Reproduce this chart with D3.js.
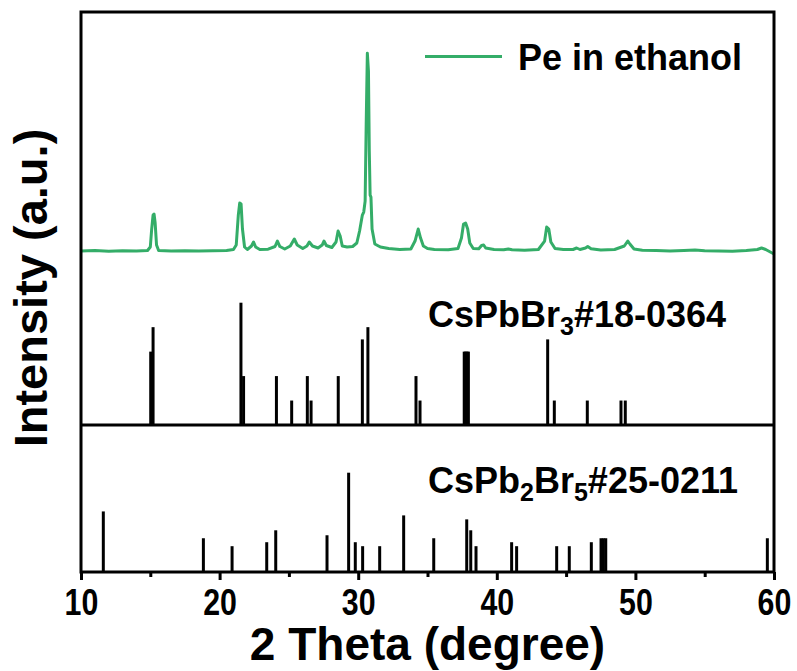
<!DOCTYPE html>
<html><head><meta charset="utf-8">
<script src="https://cdn.jsdelivr.net/npm/d3@7/dist/d3.min.js"></script>
<style>
html,body{margin:0;padding:0;background:#fff;}
text{font-family:"Liberation Sans",Arial,sans-serif;font-weight:bold;fill:#000;}
</style></head>
<body><svg id="c" width="797" height="671"></svg>
<script>
// ---- data ----
const xrdTheta = [10.0,11,12,13,14,14.8,15.0,15.1,15.2,15.27,15.35,15.45,15.6,16.5,17.5,18.5,19.5,20.5,21.0,21.2,21.35,21.45,21.55,21.65,21.8,22.0,22.3,22.45,22.6,22.9,23.5,24.0,24.17,24.35,24.7,25.1,25.39,25.6,26.0,26.3,26.47,26.7,27.1,27.4,27.53,27.7,28.1,28.4,28.55,28.7,28.85,29.2,29.6,29.9,30.1,30.3,30.4,30.5,30.58,30.66,30.74,30.8,30.86,30.92,31.0,31.2,31.6,32.2,33,33.8,34.1,34.33,34.5,34.7,35.0,35.5,36.5,37.2,37.45,37.6,37.75,37.9,38.05,38.3,38.7,38.9,39.05,39.2,39.8,40.5,40.83,41.1,42,43.0,43.45,43.6,43.75,43.9,44.2,44.8,45.5,45.76,46.0,46.4,46.56,46.8,47.5,48.5,49.2,49.45,49.6,49.9,50.5,51.5,52.5,53.5,54.3,55,56,57,58,58.8,59.1,59.4,60];
const xrdCounts = [200,205,198,203,200,205,240,420,560,570,480,260,205,200,202,200,203,205,215,260,560,680,670,420,240,215,250,290,240,215,218,245,300,245,220,250,320,260,225,250,290,250,230,260,300,255,235,290,400,350,250,240,245,280,400,560,590,700,1500,2180,2000,1200,760,740,420,270,240,225,215,220,300,420,330,250,225,215,212,225,330,470,480,420,280,225,222,255,260,230,215,212,220,212,208,215,300,440,420,290,225,215,215,230,215,230,245,222,210,215,250,300,270,220,208,205,200,205,210,203,200,198,205,215,230,215,170];

const cspbbr3Theta = [15.03,15.2,21.54,21.73,24.1,25.2,26.33,26.6,28.56,30.3,30.7,34.17,34.46,37.65,37.75,37.85,37.95,43.67,44.15,46.53,48.96,49.27];
const cspbbr3Int   = [60,80,100,40,40,20,40,20,40,70,80,40,20,60,60,60,60,70,20,20,20,20];

const cspb2br5Theta = [11.61,18.83,20.9,23.4,24.05,27.75,29.31,29.79,30.32,31.55,33.28,35.45,37.83,38.12,38.5,41.07,41.43,44.32,45.23,46.82,47.52,47.69,47.86,59.52];
const cspb2br5Int   = [61,34,26,30,42,37,100,30,26,26,57,34,53,42,26,30,26,26,26,30,34,34,34,34];

const majorTicks = [10,20,30,40,50,60];
const minorTicks = [15,25,35,45,55];
const seriesName = "Pe in ethanol";
const xTitle = "2 Theta (degree)";
const yTitle = "Intensity (a.u.)";

// ---- layout ----
const L = 81, R = 774, T = 12, B = 572, SEP = 425;
const green = "#34ad68";
const svg = d3.select("#c");

const x = d3.scaleLinear().domain([10,60]).range([L,R]);
const yXrd = d3.scaleLinear().domain([200,2180]).range([251,53.3]);
const yMid = d3.scaleLinear().domain([0,100]).range([SEP,302.7]);
const yBot = d3.scaleLinear().domain([0,100]).range([B,472.7]);

// curve
const pts = xrdTheta.map((t,i)=>[t,xrdCounts[i]]);
svg.append("path").datum(pts)
  .attr("d", d3.line().x(d=>x(d[0])).y(d=>yXrd(d[1])))
  .attr("fill","none").attr("stroke",green).attr("stroke-width",3).attr("stroke-linejoin","round");

// sticks
svg.append("g").selectAll("line").data(cspbbr3Theta).join("line")
  .attr("x1",d=>x(d)).attr("x2",d=>x(d))
  .attr("y1",SEP).attr("y2",(d,i)=>yMid(cspbbr3Int[i]))
  .attr("stroke","#000").attr("stroke-width",3);
svg.append("g").selectAll("line").data(cspb2br5Theta).join("line")
  .attr("x1",d=>x(d)).attr("x2",d=>x(d))
  .attr("y1",B).attr("y2",(d,i)=>yBot(cspb2br5Int[i]))
  .attr("stroke","#000").attr("stroke-width",3);

// axes
const gMaj = svg.append("g").attr("transform",`translate(0,${B})`)
  .call(d3.axisBottom(x).tickValues(majorTicks).tickSize(8).tickFormat(d3.format("d")));
gMaj.select(".domain").remove();
gMaj.selectAll("line").attr("stroke","#000").attr("stroke-width",3);
gMaj.selectAll("text").attr("y",0).attr("dy",0).attr("x",0)
  .attr("transform","translate(0,43) scale(0.82,1.02)")
  .style("font-size","37px").style("font-family","'Liberation Sans',Arial,sans-serif").style("font-weight","bold").attr("fill","#000");
const gMin = svg.append("g").attr("transform",`translate(0,${B})`)
  .call(d3.axisBottom(x).tickValues(minorTicks).tickSize(5).tickFormat(""));
gMin.select(".domain").remove();
gMin.selectAll("line").attr("stroke","#000").attr("stroke-width",3);

// frame
svg.append("rect").attr("x",L).attr("y",T).attr("width",R-L).attr("height",B-T)
  .attr("fill","none").attr("stroke","#000").attr("stroke-width",3);
svg.append("line").attr("x1",L).attr("x2",R).attr("y1",SEP).attr("y2",SEP)
  .attr("stroke","#000").attr("stroke-width",3);

// legend
svg.append("line").attr("x1",425).attr("x2",502).attr("y1",56.5).attr("y2",56.5)
  .attr("stroke",green).attr("stroke-width",3);
svg.append("text").attr("x",518).attr("y",70).style("font-size","36px").text(seriesName);

// labels
const t1 = svg.append("text").attr("x",428).attr("y",327).style("font-size","36px");
t1.append("tspan").text("CsPbBr");
t1.append("tspan").attr("dy",8).style("font-size","25px").text("3");
t1.append("tspan").attr("dy",-8).text("#18-0364");
const t2 = svg.append("text").attr("x",428).attr("y",493).style("font-size","36px");
t2.append("tspan").text("CsPb");
t2.append("tspan").attr("dy",8).style("font-size","25px").text("2");
t2.append("tspan").attr("dy",-8).text("Br");
t2.append("tspan").attr("dy",8).style("font-size","25px").text("5");
t2.append("tspan").attr("dy",-8).text("#25-0211");

svg.append("text").attr("x",(L+R)/2).attr("y",660).attr("text-anchor","middle")
  .style("font-size","46px").text(xTitle);
svg.append("text").attr("transform",`translate(47,288) rotate(-90)`).attr("text-anchor","middle")
  .style("font-size","47px").text(yTitle);
</script></body></html>
